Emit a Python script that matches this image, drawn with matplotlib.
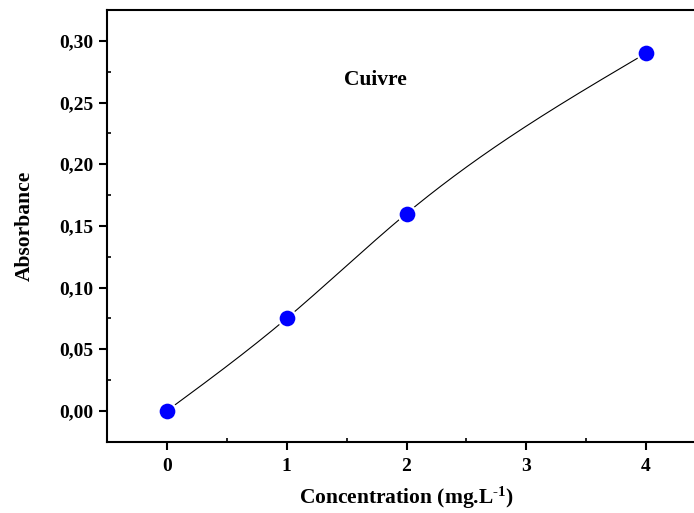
import numpy as np
import matplotlib
matplotlib.use("Agg")
import matplotlib.pyplot as plt
from matplotlib.ticker import FixedLocator, FixedFormatter, MultipleLocator

# Data
concentration = [0, 1, 2, 4]
absorbance = [0.0, 0.075, 0.16, 0.29]
x_ticks = [0, 1, 2, 3, 4]
x_tick_labels = ["0", "1", "2", "3", "4"]
y_ticks = [0.00, 0.05, 0.10, 0.15, 0.20, 0.25, 0.30]
y_tick_labels = ["0,00", "0,05", "0,10", "0,15", "0,20", "0,25", "0,30"]


def natural_cubic_spline(xs, ys, xq):
    xs = np.asarray(xs, float)
    ys = np.asarray(ys, float)
    n = len(xs)
    h = np.diff(xs)
    A = np.zeros((n, n))
    b = np.zeros(n)
    A[0, 0] = 1
    A[-1, -1] = 1
    for i in range(1, n - 1):
        A[i, i - 1] = h[i - 1]
        A[i, i] = 2 * (h[i - 1] + h[i])
        A[i, i + 1] = h[i]
        b[i] = 3 * ((ys[i + 1] - ys[i]) / h[i] - (ys[i] - ys[i - 1]) / h[i - 1])
    c = np.linalg.solve(A, b)
    out = np.empty_like(xq)
    for k, x in enumerate(xq):
        i = min(max(np.searchsorted(xs, x) - 1, 0), n - 2)
        dx = x - xs[i]
        bi = (ys[i + 1] - ys[i]) / h[i] - h[i] * (2 * c[i] + c[i + 1]) / 3
        di = (c[i + 1] - c[i]) / (3 * h[i])
        out[k] = ys[i] + bi * dx + c[i] * dx ** 2 + di * dx ** 3
    return out


plt.rcParams['font.family'] = ['Liberation Serif', 'DejaVu Serif']
plt.rcParams['font.weight'] = 'bold'
plt.rcParams['mathtext.fontset'] = 'custom'
plt.rcParams['mathtext.rm'] = 'Liberation Serif:bold'
plt.rcParams['mathtext.bf'] = 'Liberation Serif:bold'
plt.rcParams['mathtext.it'] = 'Liberation Serif:bold:italic'

fig = plt.figure(figsize=(6.94, 5.13), dpi=100)
ax = fig.add_axes([107 / 694, 1 - 441.7 / 513, 599 / 694, 431.7 / 513])

xs = np.linspace(min(concentration), max(concentration), 400)
ax.plot(xs, natural_cubic_spline(concentration, absorbance, xs), color='black', lw=0.8, zorder=2)
ax.plot(concentration, absorbance, 'o', color='#0000ff', markersize=12.9,
        markeredgecolor='white', markeredgewidth=1.6, zorder=3, clip_on=False)

ax.set_xlim(-0.5, 4.5)
ax.set_ylim(-0.025, 0.325)

ax.xaxis.set_major_locator(FixedLocator(x_ticks))
ax.xaxis.set_major_formatter(FixedFormatter(x_tick_labels))
ax.yaxis.set_major_locator(FixedLocator(y_ticks))
ax.yaxis.set_major_formatter(FixedFormatter(y_tick_labels))
ax.xaxis.set_minor_locator(MultipleLocator(0.5))
ax.yaxis.set_minor_locator(MultipleLocator(0.025))

for s in ax.spines.values():
    s.set_linewidth(1.5)

ax.tick_params(which='major', direction='out', length=6, width=1.5, labelsize=14, pad=4)
ax.tick_params(axis='x', which='major', pad=6)
ax.tick_params(which='minor', direction='in', length=3, width=1.2)
ax.tick_params(top=False, right=False, which='both')
for lbl in ax.get_xticklabels() + ax.get_yticklabels():
    lbl.set_fontweight('bold')

ax.set_xlabel(r'Concentration (mg.L$^{\mathrm{\text{-}1}}$)', fontsize=15.5, fontweight='bold', labelpad=7)
ax.set_ylabel('Absorbance', fontsize=15.5, fontweight='bold', labelpad=17)
ax.text(1.74, 0.268, 'Cuivre', fontsize=15.5, fontweight='bold', ha='center', va='center')

fig.savefig('out.png', dpi=100)
